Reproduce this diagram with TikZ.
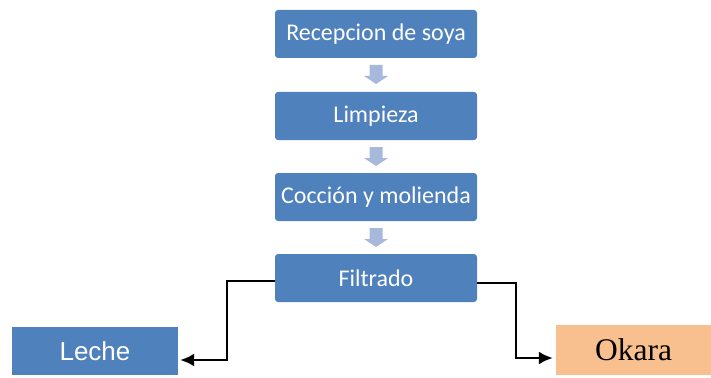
\documentclass[tikz,border=0pt]{standalone}
\usepackage{fontspec}
\usetikzlibrary{arrows.meta}
\newfontfamily\calib{Carlito}
\newfontfamily\arialf{Liberation Sans}
\newfontfamily\timesf{Liberation Serif}
\definecolor{boxblue}{HTML}{4F81BD}
\definecolor{arrgray}{HTML}{A7B9DB}
\definecolor{okaorange}{HTML}{F9C08F}

\begin{document}
\begin{tikzpicture}[x=1pt, y=-1pt,
  paso/.style={fill=boxblue, rounded corners=3pt, minimum width=202pt, minimum height=48pt,
    inner sep=0pt, text=white, font=\calib\fontsize{24}{28}\selectfont},
  salida/.style={minimum height=48pt, inner sep=0pt},
  conn/.style={line width=2.3pt, -{Latex[length=14pt,width=13pt]}},
  downarr/.pic={\fill[arrgray] (-6.5,-9.5) -- (6.5,-9.5) -- (6.5,1.5) -- (12,1.5) -- (0,9.5)
     -- (-12,1.5) -- (-6.5,1.5) -- cycle;}]

\useasboundingbox (0,0) rectangle (711,377);

% pasos del proceso
\node[paso] (rec) at (376, 34) {Recepcion de soya};
\node[paso] (lim) at (376, 116) {Limpieza};
\node[paso] (coc) at (376, 197) {Cocción y molienda};
\node[paso] (fil) at (376, 278) {Filtrado};

\pic at (376, 74.5) {downarr};
\pic at (376, 156.5) {downarr};
\pic at (376, 237.5) {downarr};

% productos
\node[salida, fill=boxblue, minimum width=166pt, text=white, font=\arialf\fontsize{26}{30}\selectfont]
  (lec) at (95, 351) {Leche};
\node[salida, fill=okaorange, minimum width=155pt, minimum height=50pt, font=\timesf\fontsize{31.5}{36}\selectfont]
  (oka) at (633.5, 350) {Okara};

\draw[conn] ([yshift=-3pt]fil.west) -- ++(-48,0) |- ([xshift=2pt, yshift=-9pt]lec.east);
\draw[conn] ([yshift=-5pt]fil.east) -- ++(39,0) |- ([xshift=-3pt, yshift=-8pt]oka.west);

\end{tikzpicture}
\end{document}
